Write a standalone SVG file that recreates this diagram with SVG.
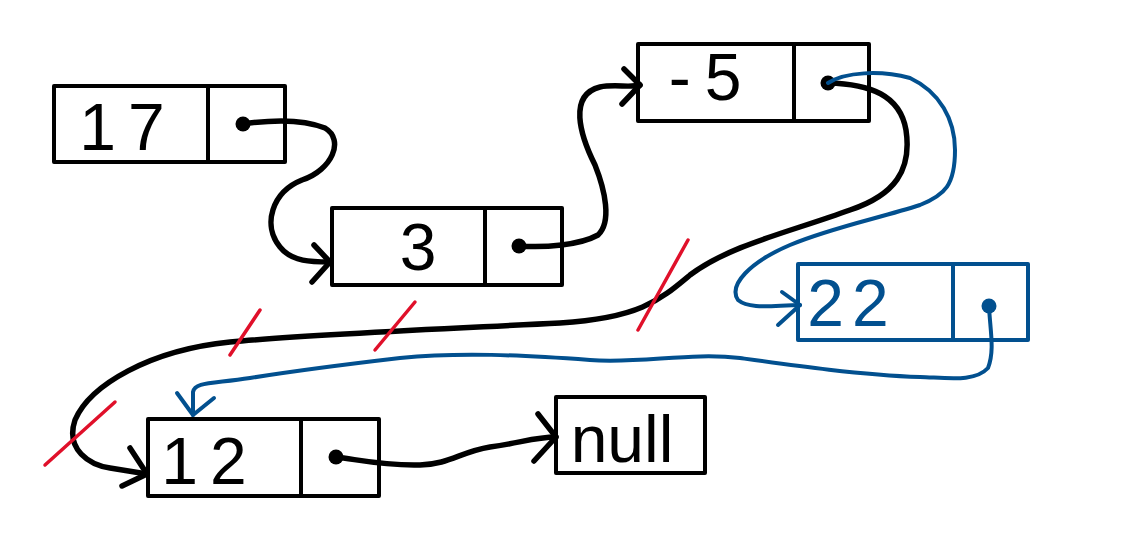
<svg xmlns="http://www.w3.org/2000/svg" width="1140" height="550" viewBox="0 0 1140 550">
<style>
.box{fill:#fff;stroke:#000;stroke-width:4;stroke-linejoin:round}
.bbox{fill:#fff;stroke:#02508f;stroke-width:4;stroke-linejoin:round}
.t{font-family:"Liberation Sans",Arial,sans-serif;font-size:66px;fill:#000;text-anchor:middle}
.bt{font-family:"Liberation Sans",Arial,sans-serif;font-size:66px;fill:#02508f;text-anchor:middle}
.k{fill:none;stroke:#000;stroke-width:5.5;stroke-linecap:round;stroke-linejoin:round}
.b{fill:none;stroke:#02508f;stroke-width:4;stroke-linecap:round;stroke-linejoin:round}
.r{fill:none;stroke:#e0102a;stroke-width:3.5;stroke-linecap:round}
</style>
<rect width="1140" height="550" fill="#fff"/>
<g id="node17">
<rect class="box" x="54" y="86" width="231" height="76"/>
<line class="box" x1="208" y1="86" x2="208" y2="162"/>
<text class="t" x="128" y="150" letter-spacing="12">17</text>
<circle cx="243" cy="124" r="7.5" fill="#000"/>
</g>
<g id="node3">
<rect class="box" x="332" y="208" width="230" height="77"/>
<line class="box" x1="485" y1="208" x2="485" y2="285"/>
<text class="t" x="418" y="270">3</text>
<circle cx="519" cy="246" r="7.5" fill="#000"/>
</g>
<g id="nodeMinus5">
<rect class="box" x="638" y="44" width="231" height="77"/>
<line class="box" x1="794" y1="44" x2="794" y2="121"/>
<text class="t" x="712" y="100" letter-spacing="14">-5</text>
<circle cx="828" cy="83" r="7.5" fill="#000"/>
</g>
<g id="node22">
<rect class="bbox" x="798" y="264" width="230" height="76"/>
<line class="bbox" x1="953" y1="264" x2="953" y2="340"/>
<text class="bt" x="852" y="326" letter-spacing="8">22</text>
<circle cx="989" cy="306" r="7.5" fill="#02508f"/>
</g>
<g id="node12">
<rect class="box" x="148" y="419" width="231" height="77"/>
<line class="box" x1="301" y1="419" x2="301" y2="496"/>
<text class="t" x="210" y="484" letter-spacing="12">12</text>
<circle cx="336" cy="457" r="7.5" fill="#000"/>
</g>
<g id="nodeNull">
<rect class="box" x="556" y="397" width="149" height="76"/>
<text class="t" x="622" y="462" font-size="58">null</text>
</g>
<g id="connectors">
<path class="k" d="M243,124 C270,120 300,118 325,128 C345,140 332,170 302,180 C272,192 262,225 280,247 C292,262 312,262 330,262"/>
<path class="k" d="M314,245 L330,262 L312,282"/>
<path class="k" d="M519,246 C545,248 580,245 598,235 C612,222 605,190 595,165 C580,135 568,95 600,87 C615,84 630,88 640,85"/>
<path class="k" d="M624,69 L640,85 L622,104"/>
<path class="k" d="M828,83 C870,84 900,95 906,130 C912,170 895,195 850,210 C790,232 730,245 690,275 C660,300 640,318 560,323 C420,330 300,335 230,342 C150,350 90,385 75,420 C65,450 90,465 110,468 L147,474"/>
<path class="k" d="M130,448 L147,474 L122,486"/>
<path class="k" d="M336,457 C360,460 385,466 420,465 C450,464 460,452 490,447 C520,443 535,437 556,437"/>
<path class="k" d="M538,414 L556,437 L534,461"/>
<path class="b" d="M828,83 C845,72 880,70 910,78 C940,92 955,120 955,150 C955,185 945,195 920,205 C880,218 830,228 790,245 C750,262 728,285 738,300 C750,310 775,305 800,305"/>
<path class="b" d="M782,292 L800,305 L778,325"/>
<path class="b" d="M989,306 C990,330 995,350 988,368 C975,382 950,378 920,377 C860,375 790,365 740,358 C690,352 640,364 590,360 C520,355 460,352 400,358 C340,365 300,370 250,378 C210,384 195,382 193,392 L193,415"/>
<path class="b" d="M177,393 L193,415 L214,398"/>
<line class="r" x1="688" y1="240" x2="638" y2="330"/>
<line class="r" x1="260" y1="310" x2="230" y2="355"/>
<line class="r" x1="415" y1="302" x2="375" y2="350"/>
<line class="r" x1="115" y1="402" x2="45" y2="465"/>
</g>
</svg>
